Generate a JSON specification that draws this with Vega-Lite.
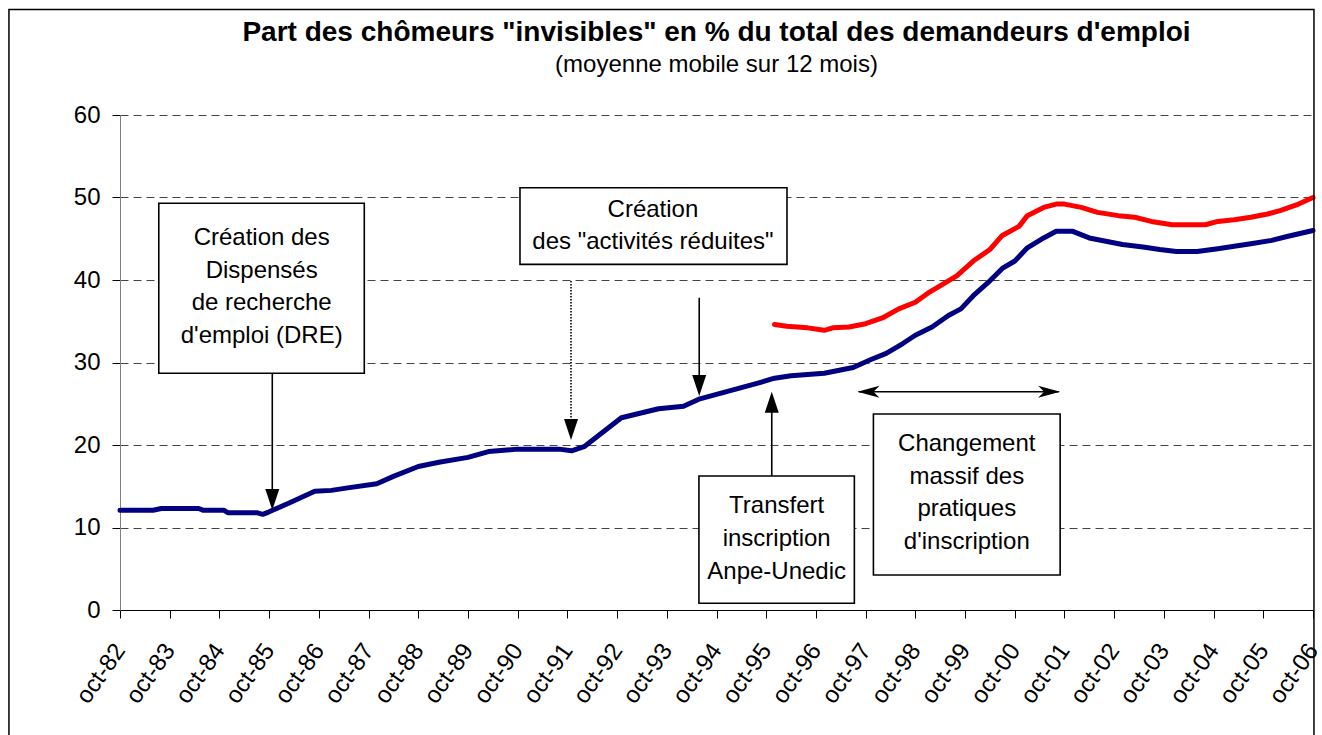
{
  "$schema": "https://vega.github.io/schema/vega-lite/v6.json",
  "width": 1193,
  "height": 495,
  "autosize": {"type": "none"},
  "padding": {"left": 120, "top": 115, "right": 9, "bottom": 125},
  "background": "white",
  "title": {
    "text": "Part des chômeurs \"invisibles\" en % du total des demandeurs d'emploi",
    "subtitle": "(moyenne mobile sur 12 mois)",
    "font": "Liberation Sans",
    "fontSize": 28,
    "fontWeight": "bold",
    "color": "black",
    "subtitleFont": "Liberation Sans",
    "subtitleFontSize": 24,
    "subtitleColor": "black",
    "anchor": "middle",
    "offset": -68,
    "subtitlePadding": 6
  },
  "datasets": {
    "series": [
      {"date": "1982-10-01", "value": 12.1, "serie": "série 1"},
      {"date": "1983-06-01", "value": 12.1, "serie": "série 1"},
      {"date": "1983-08-01", "value": 12.3, "serie": "série 1"},
      {"date": "1984-05-01", "value": 12.3, "serie": "série 1"},
      {"date": "1984-06-01", "value": 12.1, "serie": "série 1"},
      {"date": "1984-11-01", "value": 12.1, "serie": "série 1"},
      {"date": "1984-12-01", "value": 11.8, "serie": "série 1"},
      {"date": "1985-07-01", "value": 11.8, "serie": "série 1"},
      {"date": "1985-08-15", "value": 11.6, "serie": "série 1"},
      {"date": "1985-10-01", "value": 11.9, "serie": "série 1"},
      {"date": "1986-03-01", "value": 13.0, "serie": "série 1"},
      {"date": "1986-09-01", "value": 14.4, "serie": "série 1"},
      {"date": "1987-01-01", "value": 14.5, "serie": "série 1"},
      {"date": "1987-05-01", "value": 14.8, "serie": "série 1"},
      {"date": "1987-12-01", "value": 15.3, "serie": "série 1"},
      {"date": "1988-04-01", "value": 16.2, "serie": "série 1"},
      {"date": "1988-10-01", "value": 17.4, "serie": "série 1"},
      {"date": "1989-03-01", "value": 17.9, "serie": "série 1"},
      {"date": "1989-10-01", "value": 18.5, "serie": "série 1"},
      {"date": "1990-03-01", "value": 19.2, "serie": "série 1"},
      {"date": "1990-10-01", "value": 19.5, "serie": "série 1"},
      {"date": "1991-08-01", "value": 19.5, "serie": "série 1"},
      {"date": "1991-11-01", "value": 19.3, "serie": "série 1"},
      {"date": "1992-02-01", "value": 19.8, "serie": "série 1"},
      {"date": "1992-11-01", "value": 23.3, "serie": "série 1"},
      {"date": "1993-08-01", "value": 24.4, "serie": "série 1"},
      {"date": "1994-02-01", "value": 24.7, "serie": "série 1"},
      {"date": "1994-06-01", "value": 25.6, "serie": "série 1"},
      {"date": "1994-12-01", "value": 26.4, "serie": "série 1"},
      {"date": "1995-08-01", "value": 27.5, "serie": "série 1"},
      {"date": "1995-12-01", "value": 28.1, "serie": "série 1"},
      {"date": "1996-04-01", "value": 28.4, "serie": "série 1"},
      {"date": "1996-12-01", "value": 28.7, "serie": "série 1"},
      {"date": "1997-07-01", "value": 29.4, "serie": "série 1"},
      {"date": "1997-11-01", "value": 30.3, "serie": "série 1"},
      {"date": "1998-03-01", "value": 31.1, "serie": "série 1"},
      {"date": "1998-07-01", "value": 32.3, "serie": "série 1"},
      {"date": "1998-10-01", "value": 33.3, "serie": "série 1"},
      {"date": "1999-02-01", "value": 34.3, "serie": "série 1"},
      {"date": "1999-06-01", "value": 35.7, "serie": "série 1"},
      {"date": "1999-09-01", "value": 36.5, "serie": "série 1"},
      {"date": "1999-12-01", "value": 38.1, "serie": "série 1"},
      {"date": "2000-04-01", "value": 39.9, "serie": "série 1"},
      {"date": "2000-07-01", "value": 41.4, "serie": "série 1"},
      {"date": "2000-10-01", "value": 42.3, "serie": "série 1"},
      {"date": "2001-01-01", "value": 43.9, "serie": "série 1"},
      {"date": "2001-05-01", "value": 45.1, "serie": "série 1"},
      {"date": "2001-08-01", "value": 45.9, "serie": "série 1"},
      {"date": "2001-12-01", "value": 45.9, "serie": "série 1"},
      {"date": "2002-04-01", "value": 45.1, "serie": "série 1"},
      {"date": "2002-08-01", "value": 44.7, "serie": "série 1"},
      {"date": "2002-12-01", "value": 44.3, "serie": "série 1"},
      {"date": "2003-05-01", "value": 44.0, "serie": "série 1"},
      {"date": "2003-09-01", "value": 43.7, "serie": "série 1"},
      {"date": "2004-01-01", "value": 43.45, "serie": "série 1"},
      {"date": "2004-06-01", "value": 43.45, "serie": "série 1"},
      {"date": "2004-11-01", "value": 43.8, "serie": "série 1"},
      {"date": "2005-03-01", "value": 44.1, "serie": "série 1"},
      {"date": "2005-07-01", "value": 44.4, "serie": "série 1"},
      {"date": "2005-12-01", "value": 44.8, "serie": "série 1"},
      {"date": "2006-04-01", "value": 45.3, "serie": "série 1"},
      {"date": "2006-10-01", "value": 46.0, "serie": "série 1"},
      {"date": "1995-12-01", "value": 34.6, "serie": "série 2"},
      {"date": "1996-03-01", "value": 34.4, "serie": "série 2"},
      {"date": "1996-08-01", "value": 34.2, "serie": "série 2"},
      {"date": "1996-12-01", "value": 33.9, "serie": "série 2"},
      {"date": "1997-02-01", "value": 34.2, "serie": "série 2"},
      {"date": "1997-06-01", "value": 34.3, "serie": "série 2"},
      {"date": "1997-10-01", "value": 34.7, "serie": "série 2"},
      {"date": "1998-02-01", "value": 35.4, "serie": "série 2"},
      {"date": "1998-06-01", "value": 36.5, "serie": "série 2"},
      {"date": "1998-10-01", "value": 37.3, "serie": "série 2"},
      {"date": "1999-01-01", "value": 38.4, "serie": "série 2"},
      {"date": "1999-04-01", "value": 39.3, "serie": "série 2"},
      {"date": "1999-08-01", "value": 40.5, "serie": "série 2"},
      {"date": "1999-12-01", "value": 42.3, "serie": "série 2"},
      {"date": "2000-04-01", "value": 43.7, "serie": "série 2"},
      {"date": "2000-07-01", "value": 45.4, "serie": "série 2"},
      {"date": "2000-11-01", "value": 46.5, "serie": "série 2"},
      {"date": "2001-01-01", "value": 47.8, "serie": "série 2"},
      {"date": "2001-05-01", "value": 48.8, "serie": "série 2"},
      {"date": "2001-08-01", "value": 49.2, "serie": "série 2"},
      {"date": "2001-10-01", "value": 49.2, "serie": "série 2"},
      {"date": "2002-02-01", "value": 48.8, "serie": "série 2"},
      {"date": "2002-06-01", "value": 48.2, "serie": "série 2"},
      {"date": "2002-11-01", "value": 47.8, "serie": "série 2"},
      {"date": "2003-03-01", "value": 47.6, "serie": "série 2"},
      {"date": "2003-07-01", "value": 47.1, "serie": "série 2"},
      {"date": "2003-12-01", "value": 46.7, "serie": "série 2"},
      {"date": "2004-04-01", "value": 46.7, "serie": "série 2"},
      {"date": "2004-08-01", "value": 46.7, "serie": "série 2"},
      {"date": "2004-11-01", "value": 47.1, "serie": "série 2"},
      {"date": "2005-03-01", "value": 47.3, "serie": "série 2"},
      {"date": "2005-07-01", "value": 47.6, "serie": "série 2"},
      {"date": "2005-11-01", "value": 48.0, "serie": "série 2"},
      {"date": "2006-02-01", "value": 48.4, "serie": "série 2"},
      {"date": "2006-06-01", "value": 49.1, "serie": "série 2"},
      {"date": "2006-10-01", "value": 50.0, "serie": "série 2"}
    ],
    "frame": [
      {"x1": "1980-07-07", "x2": "2006-10-08", "y1": 72.79, "y2": -15.76}
    ],
    "boxes": [
      {"x1": "1983-07-13", "x2": "1987-08-31", "y1": 49.3, "y2": 28.69, "xc": "1985-08-07", "yt": 44.24, "label": "Création des\nDispensés\nde recherche\nd'emploi (DRE)"},
      {"x1": "1990-10-18", "x2": "1996-03-02", "y1": 51.19, "y2": 41.9, "xc": "1993-06-21", "yt": 47.67, "label": "Création\ndes \"activités réduites\""},
      {"x1": "1994-05-25", "x2": "1997-07-10", "y1": 16.24, "y2": 0.81, "xc": "1995-12-17", "yt": 11.72, "label": "Transfert\ninscription\nAnpe-Unedic"},
      {"x1": "1997-11-27", "x2": "2001-08-30", "y1": 23.76, "y2": 4.24, "xc": "1999-10-14", "yt": 19.27, "label": "Changement\nmassif des\npratiques\nd'inscription"}
    ],
    "vshafts": [
      {"x": "1985-10-24", "y1": 28.69, "y2": 14.5, "style": "plein"},
      {"x": "1991-10-28", "y1": 39.88, "y2": 23.0, "style": "pointillé"},
      {"x": "1994-05-27", "y1": 37.85, "y2": 28.3, "style": "plein"},
      {"x": "1995-11-11", "y1": 16.24, "y2": 24.0, "style": "plein"}
    ],
    "hshafts": [
      {"x1": "1997-08-10", "x2": "2001-08-20", "y": 26.46}
    ],
    "heads": [
      {"x": "1985-10-24", "y": 12.12, "dir": "bas"},
      {"x": "1991-10-28", "y": 20.6, "dir": "bas"},
      {"x": "1994-05-27", "y": 25.94, "dir": "bas"},
      {"x": "1995-11-11", "y": 26.46, "dir": "haut"},
      {"x": "1997-08-02", "y": 26.46, "dir": "gauche"},
      {"x": "2001-08-30", "y": 26.46, "dir": "droite"}
    ]
  },
  "layer": [
    {
      "data": {"name": "series"},
      "mark": {"type": "line", "strokeWidth": 5, "strokeCap": "round", "strokeJoin": "round"},
      "encoding": {
        "x": {
          "field": "date",
          "type": "temporal",
          "title": null,
          "scale": {
            "type": "utc",
            "domain": [
              {"year": 1982, "month": 10, "date": 1, "utc": true},
              {"year": 2006, "month": 10, "date": 1, "utc": true}
            ]
          },
          "axis": {
            "values": [
              {"year": 1982, "month": 10, "date": 1, "utc": true},
              {"year": 1983, "month": 10, "date": 1, "utc": true},
              {"year": 1984, "month": 10, "date": 1, "utc": true},
              {"year": 1985, "month": 10, "date": 1, "utc": true},
              {"year": 1986, "month": 10, "date": 1, "utc": true},
              {"year": 1987, "month": 10, "date": 1, "utc": true},
              {"year": 1988, "month": 10, "date": 1, "utc": true},
              {"year": 1989, "month": 10, "date": 1, "utc": true},
              {"year": 1990, "month": 10, "date": 1, "utc": true},
              {"year": 1991, "month": 10, "date": 1, "utc": true},
              {"year": 1992, "month": 10, "date": 1, "utc": true},
              {"year": 1993, "month": 10, "date": 1, "utc": true},
              {"year": 1994, "month": 10, "date": 1, "utc": true},
              {"year": 1995, "month": 10, "date": 1, "utc": true},
              {"year": 1996, "month": 10, "date": 1, "utc": true},
              {"year": 1997, "month": 10, "date": 1, "utc": true},
              {"year": 1998, "month": 10, "date": 1, "utc": true},
              {"year": 1999, "month": 10, "date": 1, "utc": true},
              {"year": 2000, "month": 10, "date": 1, "utc": true},
              {"year": 2001, "month": 10, "date": 1, "utc": true},
              {"year": 2002, "month": 10, "date": 1, "utc": true},
              {"year": 2003, "month": 10, "date": 1, "utc": true},
              {"year": 2004, "month": 10, "date": 1, "utc": true},
              {"year": 2005, "month": 10, "date": 1, "utc": true},
              {"year": 2006, "month": 10, "date": 1, "utc": true}
            ],
            "labelExpr": "'oct-' + utcFormat(datum.value, '%y')",
            "labelAngle": -55,
            "labelAlign": "right",
            "labelBaseline": "middle",
            "labelFont": "Liberation Sans",
            "labelFontSize": 24,
            "labelColor": "black",
            "labelPadding": 28,
            "labelOverlap": false,
            "labelFlush": false,
            "tickSize": 8,
            "tickColor": "black",
            "domainColor": "black",
            "grid": false
          }
        },
        "y": {
          "field": "value",
          "type": "quantitative",
          "title": null,
          "scale": {"domain": [0, 60], "nice": false, "zero": true},
          "axis": {
            "values": [0, 10, 20, 30, 40, 50, 60],
            "labelFont": "Liberation Sans",
            "labelFontSize": 24,
            "labelColor": "black",
            "labelPadding": 12,
            "tickSize": 8,
            "tickColor": "black",
            "domainColor": "#808080",
            "grid": true,
            "gridColor": "#444444",
            "gridDash": [8, 5],
            "gridWidth": 1
          }
        },
        "color": {
          "field": "serie",
          "type": "nominal",
          "scale": {"domain": ["série 1", "série 2"], "range": ["#000080", "#ff0000"]},
          "legend": null
        }
      }
    },
    {
      "data": {"name": "frame"},
      "mark": {"type": "rect", "fill": null, "fillOpacity": 0, "stroke": "black", "strokeWidth": 1.5, "clip": false},
      "encoding": {
        "x": {"field": "x1", "type": "temporal", "title": null},
        "x2": {"field": "x2"},
        "y": {"field": "y1", "type": "quantitative", "title": null},
        "y2": {"field": "y2"}
      }
    },
    {
      "data": {"name": "vshafts"},
      "mark": {"type": "rule", "color": "black", "strokeWidth": 1.6},
      "encoding": {
        "x": {"field": "x", "type": "temporal", "title": null},
        "y": {"field": "y1", "type": "quantitative", "title": null},
        "y2": {"field": "y2"},
        "strokeDash": {
          "field": "style",
          "type": "nominal",
          "scale": {"domain": ["plein", "pointillé"], "range": [[1, 0], [1.5, 1.5]]},
          "legend": null
        }
      }
    },
    {
      "data": {"name": "hshafts"},
      "mark": {"type": "rule", "color": "black", "strokeWidth": 1.6},
      "encoding": {
        "x": {"field": "x1", "type": "temporal", "title": null},
        "x2": {"field": "x2"},
        "y": {"field": "y", "type": "quantitative", "title": null}
      }
    },
    {
      "data": {"name": "heads"},
      "mark": {"type": "point", "filled": true, "color": "black", "opacity": 1, "size": 100, "strokeWidth": 0},
      "encoding": {
        "x": {"field": "x", "type": "temporal", "title": null},
        "y": {"field": "y", "type": "quantitative", "title": null},
        "shape": {
          "field": "dir",
          "type": "nominal",
          "scale": {
            "domain": ["bas", "haut", "gauche", "droite"],
            "range": [
              "M0,0L-1.4,-4.2L1.4,-4.2Z",
              "M0,0L-1.4,4.2L1.4,4.2Z",
              "M0,0L4.4,-1.2L3.2,0L4.4,1.2Z",
              "M0,0L-4.4,-1.2L-3.2,0L-4.4,1.2Z"
            ]
          },
          "legend": null
        }
      }
    },
    {
      "data": {"name": "boxes"},
      "mark": {"type": "rect", "fill": "white", "stroke": "black", "strokeWidth": 1.6},
      "encoding": {
        "x": {"field": "x1", "type": "temporal", "title": null},
        "x2": {"field": "x2"},
        "y": {"field": "y1", "type": "quantitative", "title": null},
        "y2": {"field": "y2"}
      }
    },
    {
      "data": {"name": "boxes"},
      "mark": {"type": "text", "font": "Liberation Sans", "fontSize": 24, "lineHeight": 32.7, "lineBreak": "\n", "align": "center", "baseline": "alphabetic", "color": "black"},
      "encoding": {
        "x": {"field": "xc", "type": "temporal", "title": null},
        "y": {"field": "yt", "type": "quantitative", "title": null},
        "text": {"field": "label", "type": "nominal"}
      }
    }
  ],
  "config": {
    "view": {"stroke": null},
    "font": "Liberation Sans"
  }
}
